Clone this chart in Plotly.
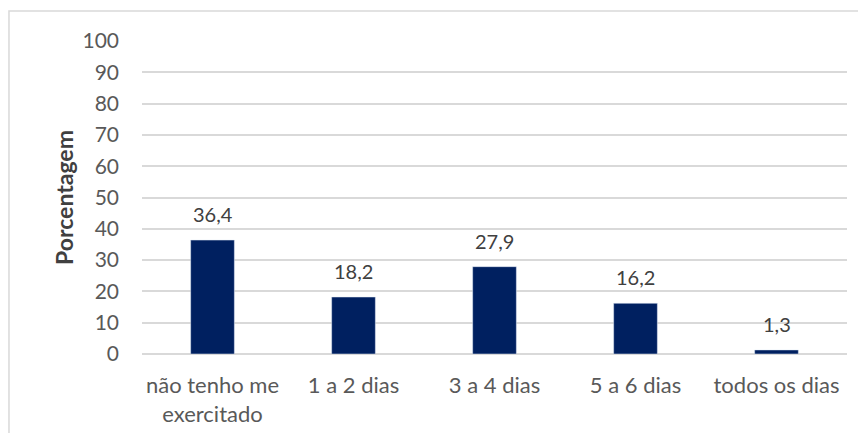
import plotly.graph_objects as go

categories = ["não tenho me<br>exercitado", "1 a 2 dias", "3 a 4 dias", "5 a 6 dias", "todos os dias"]
values = [36.4, 18.2, 27.9, 16.2, 1.3]
labels = [f"{v:.1f}".replace(".", ",") for v in values]

FONT = "Lato, Open Sans, sans-serif"
TEXT = "#595959"

fig = go.Figure(go.Bar(
    x=categories,
    y=values,
    marker_color="#002060",
    hoverinfo="x+y",
))

# value labels sit a bit higher above the bars than plotly's default "outside" text
for cat, v, lab in zip(categories, values, labels):
    fig.add_annotation(
        x=cat, y=v, text=lab, showarrow=False,
        yanchor="bottom", yshift=12,
        font=dict(size=20, color="#404040", family=FONT),
    )

# page body has an 8px margin, so the figure is made smaller to fit the window
fig.update_layout(
    width=850,
    height=425,
    margin=dict(l=134, r=11, t=33, b=79),
    paper_bgcolor="white",
    plot_bgcolor="white",
    bargap=0.69,
    showlegend=False,
    font=dict(family=FONT, size=20, color=TEXT),
    xaxis=dict(showgrid=False, ticks="", ticklabelstandoff=16, automargin=False,
               tickfont=dict(size=22, color=TEXT)),
    yaxis=dict(
        range=[0, 100],
        dtick=10,
        automargin=False,
        showgrid=True,
        gridcolor="#d9d9d9",
        gridwidth=1.5,
        zeroline=True,
        zerolinecolor="#d9d9d9",
        zerolinewidth=1.5,
        ticks="",
        ticklabelstandoff=22,
        tickfont=dict(size=21, color=TEXT),
        title=dict(text="<b>Porcentagem</b>", font=dict(size=23, color="#404040"), standoff=2),
    ),
)

# thin outer frame like the spreadsheet chart area (right/bottom sides run off the picture)
fig.add_shape(
    type="rect", xref="paper", yref="paper",
    x0=-0.1887, x1=1.1, y0=-0.4, y1=1.0958,
    line=dict(color="#d9d9d9", width=1.5), fillcolor="rgba(0,0,0,0)", layer="below",
)

fig.write_html("out.html")
